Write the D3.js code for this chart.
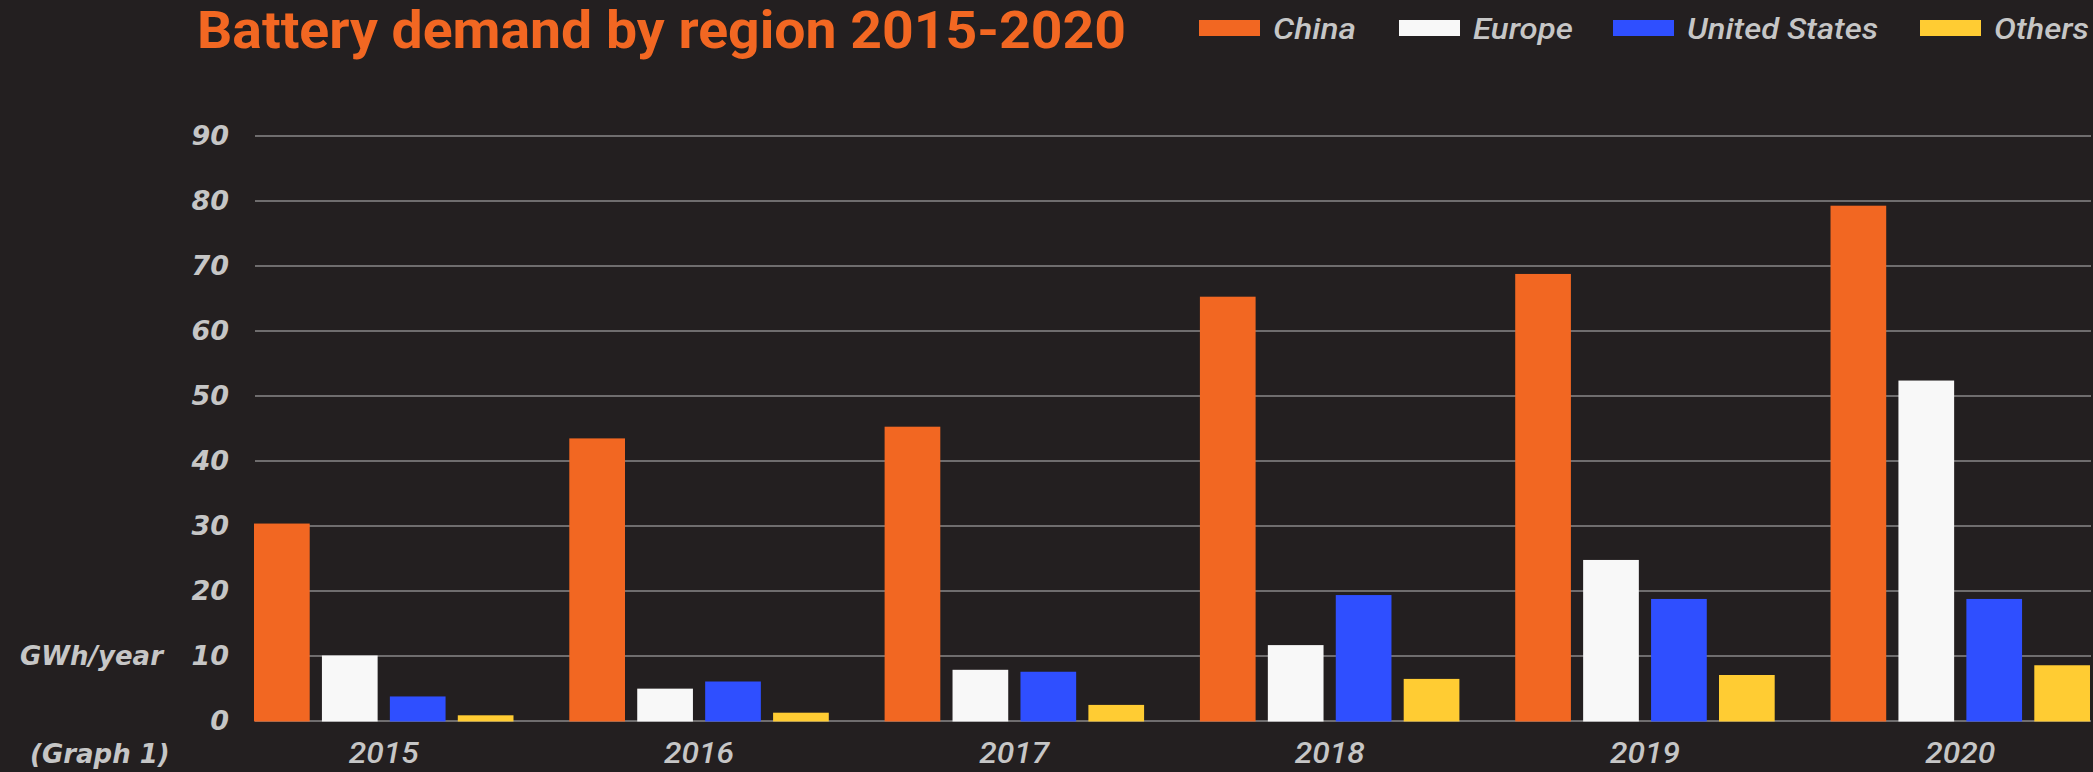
<!DOCTYPE html>
<html>
<head>
<meta charset="utf-8">
<script src="https://cdn.jsdelivr.net/npm/d3@7"></script>
<style>
  html, body { margin: 0; padding: 0; background: #231f20; }
  svg { display: block; }
</style>
</head>
<body>
<div id="chart"></div>
<script>
// Battery demand (GWh/year)
const years = ["2015", "2016", "2017", "2018", "2019", "2020"];
const regions = ["China", "Europe", "United States", "Others"];
const colors = ["#f26722", "#f8f8f8", "#2f4fff", "#ffcc33"];

const china = [30.3, 43.4, 45.2, 65.2, 68.7, 79.2];
const europe = [10.0, 4.9, 7.8, 11.6, 24.7, 52.3];
const unitedStates = [3.7, 6.0, 7.5, 19.3, 18.7, 18.7];
const others = [0.8, 1.2, 2.4, 6.4, 7.0, 8.5];

const yTicks = [0, 10, 20, 30, 40, 50, 60, 70, 80, 90];

const seriesValues = [china, europe, unitedStates, others];
const data = years.map((year, i) => ({
    year,
    values: regions.map((region, j) => ({ region, value: seriesValues[j][i] }))
}));

const width = 2093;
const height = 772;
const plotLeft = 255, plotRight = 2091;
const baseY = 720.5, topY = 135.5;

const svg = d3.select("#chart").append("svg")
    .attr("width", width)
    .attr("height", height);

svg.append("rect")
    .attr("width", width)
    .attr("height", height)
    .attr("fill", "#231f20");

// Scales
const y = d3.scaleLinear()
    .domain([0, 90])
    .range([baseY, topY]);

const x0 = d3.scaleBand()
    .domain(years)
    .range([254, 2090])
    .paddingInner(0.177)
    .paddingOuter(0);

const x1 = d3.scaleBand()
    .domain(regions)
    .range([0, x0.bandwidth()])
    .paddingInner(0.18)
    .paddingOuter(0);

const color = d3.scaleOrdinal()
    .domain(regions)
    .range(colors);

// Y axis with gridlines
const yAxis = svg.append("g")
    .attr("transform", `translate(${plotLeft},0)`)
    .call(d3.axisLeft(y)
        .tickValues(yTicks)
        .tickSize(-(plotRight - plotLeft))
        .tickPadding(26));

yAxis.select(".domain").remove();
yAxis.selectAll(".tick line")
    .attr("stroke", "#8a8888")
    .attr("stroke-width", 1.5);
yAxis.selectAll(".tick text")
    .attr("fill", "#c6c6c6")
    .style("font-family", "'DejaVu Sans', sans-serif")
    .style("font-weight", "bold")
    .style("font-style", "italic")
    .style("font-size", "27px");

// Bars
const groups = svg.append("g")
    .selectAll("g")
    .data(data)
    .enter()
    .append("g")
    .attr("transform", d => `translate(${x0(d.year)},0)`);

groups.selectAll("rect")
    .data(d => d.values)
    .enter()
    .append("rect")
    .attr("x", d => x1(d.region))
    .attr("y", d => y(d.value))
    .attr("width", x1.bandwidth())
    .attr("height", d => y(0) - y(d.value) + 1)
    .attr("fill", d => color(d.region));

// X axis labels
const xAxis = svg.append("g")
    .attr("transform", `translate(0,${baseY})`)
    .call(d3.axisBottom(x0).tickSize(0).tickPadding(22));

xAxis.select(".domain").remove();
xAxis.selectAll(".tick text")
    .attr("fill", "#c6c6c6")
    .attr("textLength", 70)
    .attr("lengthAdjust", "spacingAndGlyphs")
    .style("font-family", "Roboto, 'Liberation Sans', sans-serif")
    .style("font-weight", "500")
    .style("font-style", "italic")
    .style("font-size", "29px");

// Unit label and caption
svg.append("text")
    .attr("x", 20)
    .attr("y", y(10))
    .attr("dy", "0.35em")
    .attr("fill", "#c6c6c6")
    .style("font-family", "'DejaVu Sans', sans-serif")
    .style("font-weight", "bold")
    .style("font-style", "italic")
    .style("font-size", "26px")
    .text("GWh/year");

svg.append("text")
    .attr("x", 30)
    .attr("y", 754)
    .attr("dy", "0.35em")
    .attr("fill", "#c6c6c6")
    .style("font-family", "'DejaVu Sans', sans-serif")
    .style("font-weight", "bold")
    .style("font-style", "italic")
    .style("font-size", "26px")
    .text("(Graph 1)");

// Title
svg.append("text")
    .attr("x", 197)
    .attr("y", 48)
    .attr("fill", "#f26722")
    .attr("textLength", 929)
    .attr("lengthAdjust", "spacingAndGlyphs")
    .style("font-family", "Roboto, 'Liberation Sans', sans-serif")
    .style("font-weight", "bold")
    .style("font-size", "51px")
    .text("Battery demand by region 2015-2020");

// Legend
const legendX = [1199, 1399, 1613, 1920];
const legendTextWidth = [83, 100, 191, 95];
const legend = svg.append("g")
    .selectAll("g")
    .data(regions)
    .enter()
    .append("g")
    .attr("transform", (d, i) => `translate(${legendX[i]},20)`);

legend.append("rect")
    .attr("width", 61)
    .attr("height", 16)
    .attr("fill", d => color(d));

legend.append("text")
    .attr("x", 74)
    .attr("y", 19)
    .attr("fill", "#c6c6c6")
    .attr("textLength", (d, i) => legendTextWidth[i])
    .attr("lengthAdjust", "spacingAndGlyphs")
    .style("font-family", "Roboto, 'Liberation Sans', sans-serif")
    .style("font-weight", "500")
    .style("font-style", "italic")
    .style("font-size", "29px")
    .text(d => d);
</script>
</body>
</html>
